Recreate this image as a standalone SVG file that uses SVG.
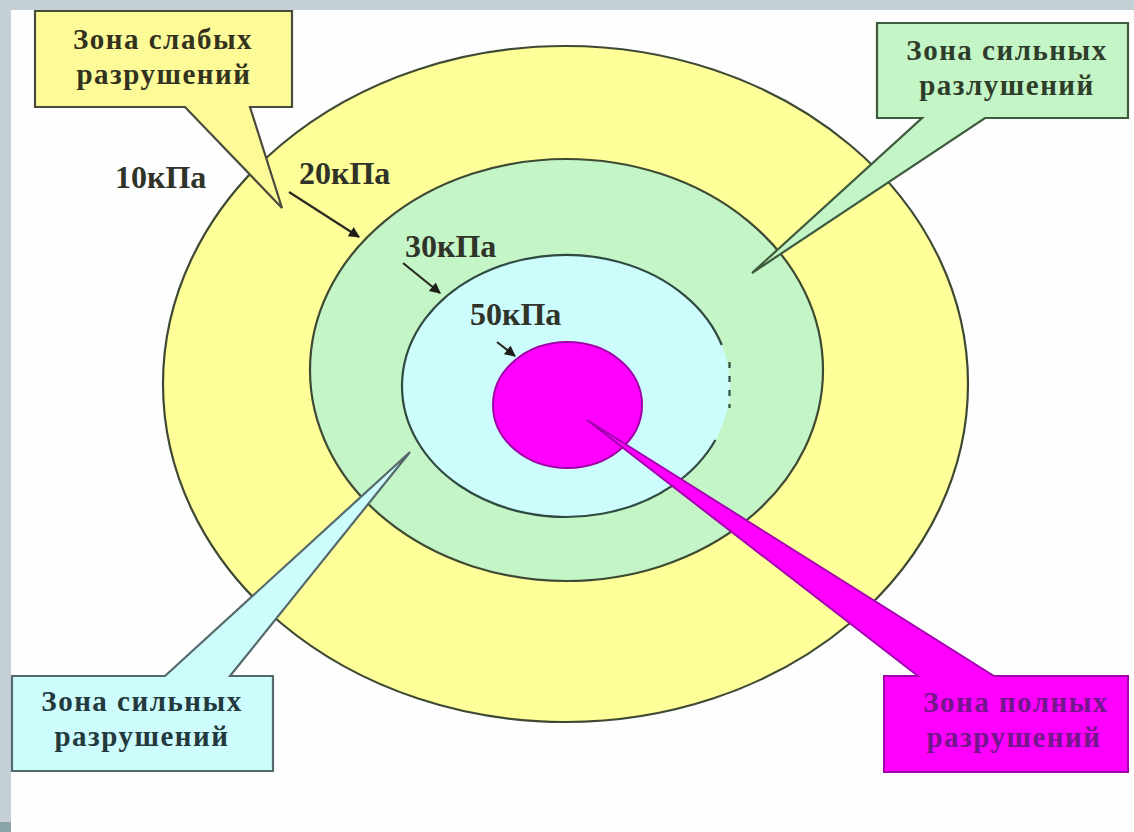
<svg xmlns="http://www.w3.org/2000/svg" width="1134" height="832" viewBox="0 0 1134 832">
<defs>
<style>
.ring{stroke:#3f4a35;stroke-width:2.2}
.lbl{font-family:"Liberation Serif",serif;font-weight:bold;font-size:29px;letter-spacing:1.5px;text-anchor:middle}
.kpa{font-family:"Liberation Serif",serif;font-weight:bold;font-size:32px;fill:#2f3328}
.arr{stroke:#2a2a22;stroke-width:2.2;fill:none;marker-end:url(#ah)}
</style>
<marker id="ah" viewBox="0 0 10 10" refX="9" refY="5" markerWidth="5" markerHeight="5" orient="auto" markerUnits="strokeWidth">
<path d="M0,0 L10,5 L0,10 Z" fill="#1e1e18"/>
</marker>
</defs>
<rect width="1134" height="832" fill="#fefefe"/>
<g id="frame">
<rect x="0" y="0" width="1134" height="10" fill="#c4cfd6"/>
<rect x="0" y="0" width="11" height="832" fill="#c4cfd6"/>
<rect x="0" y="822" width="11" height="10" fill="#8aa5a8"/>
</g>
<g id="zone-10kpa"><ellipse cx="565.5" cy="384" rx="402.5" ry="338" fill="#ffff99" class="ring"/></g>
<g id="zone-20kpa"><ellipse cx="566.5" cy="370" rx="256.5" ry="211" fill="#c4f5c6" class="ring"/></g>
<g id="zone-30kpa">
<ellipse cx="566" cy="386" rx="164" ry="131" fill="#ccfcfc"/>
<path d="M721.8,345 A164,131 0 1,0 715.4,440" fill="none" stroke="#2f4a40" stroke-width="2.2"/>
<line x1="729.5" y1="362" x2="729.5" y2="408" stroke="#2f4a40" stroke-width="2.2" stroke-dasharray="6,8"/>
</g>
<g id="zone-50kpa"><ellipse cx="567.5" cy="405" rx="74.5" ry="63" fill="#ff00ff" stroke="#a000a8" stroke-width="2"/></g>
<g id="callout-weak">
<path d="M35,11 H292 V107 H250 L282,208 L185,107 H35 Z" fill="#fdfb97" stroke="#4a4a3c" stroke-width="2.2"/>
<text class="lbl" x="163" y="49" fill="#33321f">Зона слабых</text>
<text class="lbl" x="164" y="84" fill="#33321f">разрушений</text>
</g>
<g id="callout-strong-green">
<path d="M877,23 H1128 V118 H985 L752,273 L922,118 H877 Z" fill="#c4f5c6" stroke="#3d5a3d" stroke-width="2.2"/>
<text class="lbl" x="1007" y="60" fill="#2e3d2a">Зона сильных</text>
<text class="lbl" x="1007" y="95" fill="#2e3d2a">разлушений</text>
</g>
<g id="callout-strong-cyan">
<path d="M12,676 H165 L410,452 L230,676 H273 V771 H12 Z" fill="#ccfcfc" stroke="#55696c" stroke-width="2.2"/>
<text class="lbl" x="142" y="711" fill="#24393d">Зона сильных</text>
<text class="lbl" x="142" y="746" fill="#24393d">разрушений</text>
</g>
<g id="callout-full">
<path d="M884,676 H918 L587,420 L994,676 H1128 V772 H884 Z" fill="#ff00ff" stroke="#a400b0" stroke-width="2"/>
<text class="lbl" x="1016" y="712" fill="#74168c">Зона полных</text>
<text class="lbl" x="1014" y="747" fill="#74168c">разрушений</text>
</g>
<g id="labels">
<text class="kpa" x="115" y="188">10кПа</text>
<text class="kpa" x="299" y="184">20кПа</text>
<text class="kpa" x="405" y="257">30кПа</text>
<text class="kpa" x="470" y="325">50кПа</text>
</g>
<g id="connectors">
<line class="arr" x1="289" y1="192" x2="359" y2="237"/>
<line class="arr" x1="403" y1="263" x2="440" y2="293"/>
<line class="arr" x1="497" y1="342" x2="515" y2="356"/>
</g>
</svg>
